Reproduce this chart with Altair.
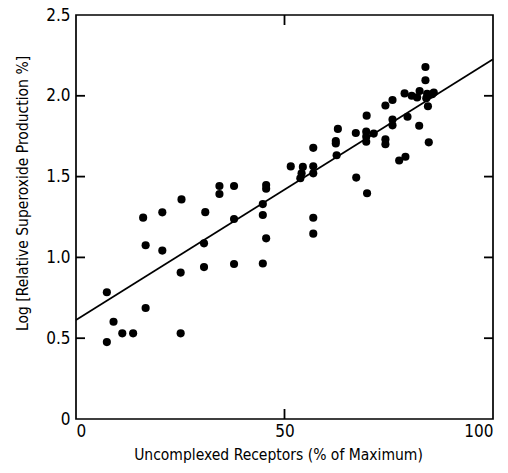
import altair as alt
import pandas as pd

# Data
receptors = [7.4, 7.4, 9.0, 11.1, 13.7, 16.1, 16.7, 16.7, 20.7, 20.7,
             25.3, 25.1, 25.1, 31.0, 30.7, 30.7, 34.4, 34.4, 37.9, 37.9,
             37.9, 45.6, 45.6, 44.8, 44.8, 45.6, 44.8, 51.5, 54.4, 54.1,
             53.8, 56.9, 56.9, 56.9, 56.9, 56.9, 62.8, 62.3, 62.3, 62.5,
             67.2, 67.1, 69.7, 69.6, 69.6, 71.4, 69.6, 69.8, 74.2, 74.2,
             74.2, 75.9, 75.9, 75.9, 77.5, 79.0, 78.8, 80.5, 81.8, 82.4,
             79.5, 82.3, 83.8, 83.8, 84.2, 85.4, 85.8, 84.0, 84.4, 84.6]
superoxide = [0.784, 0.476, 0.602, 0.530, 0.530, 1.246, 1.075, 0.687, 1.279, 1.042,
              1.359, 0.906, 0.530, 1.280, 1.087, 0.940, 1.442, 1.392, 1.442, 1.238,
              0.959, 1.448, 1.425, 1.330, 1.262, 1.118, 0.962, 1.563, 1.560, 1.520,
              1.490, 1.678, 1.564, 1.520, 1.245, 1.147, 1.795, 1.720, 1.705, 1.632,
              1.494, 1.770, 1.877, 1.778, 1.747, 1.766, 1.716, 1.397, 1.940, 1.730,
              1.700, 1.974, 1.853, 1.817, 1.600, 1.623, 2.015, 2.000, 1.990, 2.030,
              1.870, 1.815, 2.178, 2.096, 2.013, 2.010, 2.020, 1.985, 1.935, 1.712]

fit_x = [0, 100]
fit_y = [0.613, 2.226]

x_ticks = [0, 50, 100]
y_ticks = [0, 0.5, 1.0, 1.5, 2.0, 2.5]
inner_x_ticks = [50]
inner_y_ticks = [0.5, 1.0, 1.5, 2.0]

pts = pd.DataFrame({"x": receptors, "y": superoxide})
fit = pd.DataFrame({"x": fit_x, "y": fit_y})

W, H = 417, 404
X_MIN, X_MAX, Y_MIN, Y_MAX = 0, 100, 0, 2.5
# inward tick lengths (px) expressed in data units of each axis
TLX = 9 * (X_MAX - X_MIN) / W
TLY = 10 * (Y_MAX - Y_MIN) / H

tick_rows = []
for v in inner_y_ticks:
    tick_rows.append({"x": X_MIN, "x2": X_MIN + TLX, "y": v, "y2": v})
    tick_rows.append({"x": X_MAX - TLX, "x2": X_MAX, "y": v, "y2": v})
for v in inner_x_ticks:
    tick_rows.append({"x": v, "x2": v, "y": Y_MIN, "y2": Y_MIN + TLY})
    tick_rows.append({"x": v, "x2": v, "y": Y_MAX - TLY, "y2": Y_MAX})
ticks_df = pd.DataFrame(tick_rows)

FONT = "DejaVu Sans Condensed, Liberation Sans Narrow, Roboto Condensed, sans-serif"

xs = alt.Scale(domain=[X_MIN, X_MAX], nice=False, zero=False)
ys = alt.Scale(domain=[Y_MIN, Y_MAX], nice=False, zero=False)

label_x_axis = alt.Axis(orient="bottom", values=x_ticks, ticks=False, domain=False, grid=False,
                        labelPadding=4, labelFontSize=17, labelFont=FONT, labelColor="black",
                        title="Uncomplexed Receptors (% of Maximum)", titleFont=FONT,
                        titleFontSize=15.5, titleFontWeight="normal", titleColor="black",
                        titleX=202, titleY=28, titleBaseline="top")
label_y_axis = alt.Axis(orient="left", values=y_ticks, ticks=False, domain=False, grid=False,
                        labelPadding=6, labelFontSize=17, labelFont=FONT, labelColor="black",
                        labelExpr="datum.value == 0 ? '0' : format(datum.value, '.1f')",
                        title="Log [Relative Superoxide Production %]", titleFont=FONT,
                        titleFontSize=15.5, titleFontWeight="normal", titleColor="black",
                        titleX=-46, titleY=178, titleBaseline="bottom")

points = alt.Chart(pts).mark_circle(size=66, color="black", opacity=1).encode(
    x=alt.X("x:Q", scale=xs, axis=label_x_axis),
    y=alt.Y("y:Q", scale=ys, axis=label_y_axis),
)

line = alt.Chart(fit).mark_line(color="black", strokeWidth=1.7).encode(
    x=alt.X("x:Q", scale=xs),
    y=alt.Y("y:Q", scale=ys),
)

ticks = alt.Chart(ticks_df).mark_rule(color="black", strokeWidth=1.8).encode(
    x=alt.X("x:Q", scale=xs), x2="x2:Q",
    y=alt.Y("y:Q", scale=ys), y2="y2:Q",
)

chart = alt.layer(points, line, ticks).properties(
    width=W, height=H,
    autosize=alt.AutoSizeParams(type="none"),
    padding={"left": 76, "top": 15, "right": 15, "bottom": 54},
    background="white",
).configure_view(stroke="black", strokeWidth=1.7)

chart.save("out.html", embed_options={"renderer": "svg", "actions": False})
